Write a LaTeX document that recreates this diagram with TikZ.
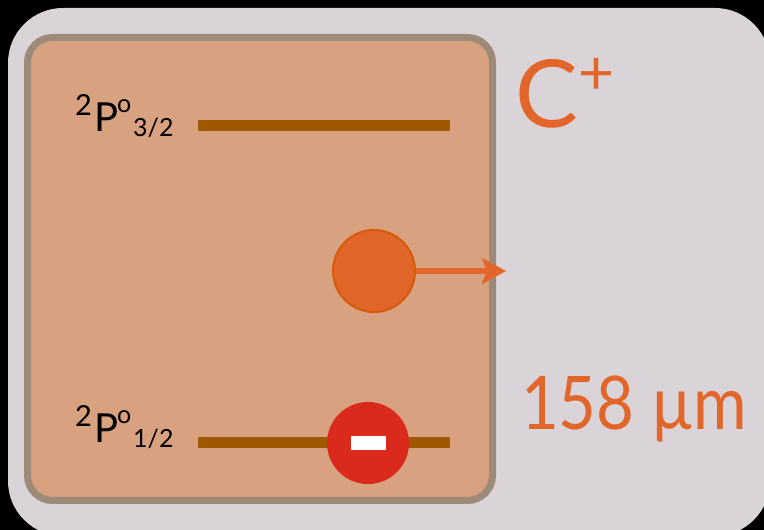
\documentclass[tikz,border=0pt]{standalone}
\usepackage{fontspec}
\setmainfont{Lato}
\newfontfamily\narrowlato[FakeStretch=0.88]{Lato}
\usepackage{xcolor}
\usepackage{tikz}
\usetikzlibrary{arrows.meta, positioning, calc}

\definecolor{panelgrey}{RGB}{218,212,216}
\definecolor{boxfill}{RGB}{216,161,128}
\definecolor{boxedge}{RGB}{158,138,120}
\definecolor{levelbrown}{RGB}{158,88,0}
\definecolor{ionorange}{RGB}{224,101,40}
\definecolor{ionedge}{RGB}{214,90,10}
\definecolor{minusred}{RGB}{217,42,28}
\definecolor{textorange}{RGB}{226,102,42}

% 能级记号
\newcommand{\statename}[1]{%
    \raisebox{16pt}{\fontsize{29}{29}\selectfont 2}%
    \hspace{2pt}P%
    \hspace{-1pt}\raisebox{19pt}{\fontsize{25}{25}\selectfont o}%
    \hspace{2pt}\raisebox{-5pt}{\fontsize{25}{25}\selectfont #1}}

\begin{document}
\begin{tikzpicture}[x=1pt, y=1pt,
    level/.style={line width=11pt, levelbrown},
    statelabel/.style={anchor=base west, inner sep=0pt, font=\fontsize{40}{40}\selectfont},
    ion/.style={circle, minimum size=82pt, inner sep=0pt}]
    % 背景
    \fill[black] (0, 0) rectangle (764, 530);
    \useasboundingbox (0, 0) rectangle (764, 530);
    \fill[panelgrey, rounded corners=55pt] (8, -6) rectangle (770, 522);

    % 能级框
    \draw[line width=7pt, boxedge, fill=boxfill, rounded corners=25pt] (27.5, 29.5) rectangle (492.5, 492.5);

    % 能级
    \coordinate (upL) at (198, 404);
    \coordinate (upR) at (450, 404);
    \coordinate (loL) at (198, 87);
    \coordinate (loR) at (450, 87);
    \draw[level] (upL) -- (upR);
    \draw[level] (loL) -- (loR);

    \node[statelabel] (up) at (75, 398) {\statename{3/2}};
    \node[statelabel] (lo) at (75, 87) {\statename{1/2}};

    % 离子与电子
    \node[ion, draw=ionedge, line width=2pt, fill=ionorange] (cion) at (374, 259) {};
    \coordinate (out) at (506, 259);
    \draw[line width=6pt, textorange, -{Stealth[length=24pt, width=26pt, inset=5pt]}] (cion.east) -- (out);

    \node[ion, fill=minusred] (hole) at (368, 87) {};
    \fill[white] ($(hole)+(-17.5,-7)$) rectangle ($(hole)+(17.5,7)$);

    % 文字
    \node[anchor=base west, inner sep=0pt, textorange, font=\fontsize{94}{94}\selectfont] (cplus) at (515, 402) {C\hspace{1pt}\raisebox{33pt}{\fontsize{62}{62}\selectfont +}};
    \node[anchor=base west, inner sep=0pt, textorange, font=\fontsize{74}{74}\narrowlato] (wave) at (521, 100) {158 µm};
\end{tikzpicture}
\end{document}
